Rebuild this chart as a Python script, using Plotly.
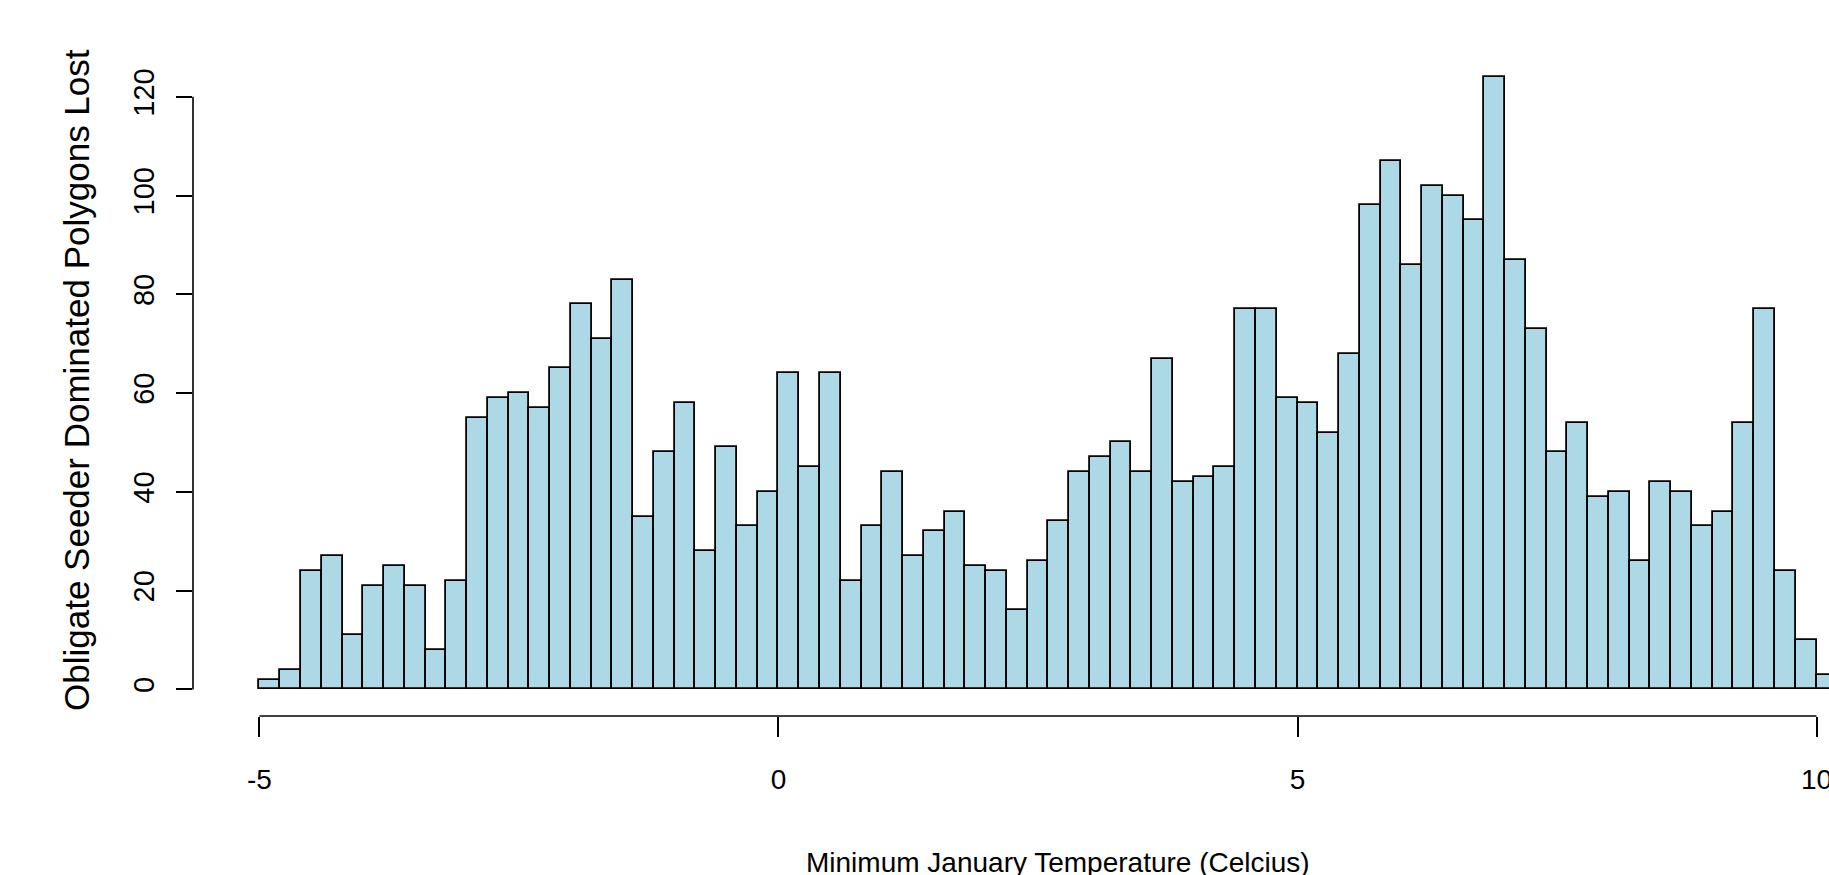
import plotly.graph_objects as go

# ---- data ----
bin_left = [-5.0, -4.8, -4.6, -4.4, -4.2, -4.0, -3.8, -3.6, -3.4, -3.2,
            -3.0, -2.8, -2.6, -2.4, -2.2, -2.0, -1.8, -1.6, -1.4, -1.2,
            -1.0, -0.8, -0.6, -0.4, -0.2, 0.0, 0.2, 0.4, 0.6, 0.8,
            1.0, 1.2, 1.4, 1.6, 1.8, 2.0, 2.2, 2.4, 2.6, 2.8,
            3.0, 3.2, 3.4, 3.6, 3.8, 4.0, 4.2, 4.4, 4.6, 4.8,
            5.0, 5.2, 5.4, 5.6, 5.8, 6.0, 6.2, 6.4, 6.6, 6.8,
            7.0, 7.2, 7.4, 7.6, 7.8, 8.0, 8.2, 8.4, 8.6, 8.8,
            9.0, 9.2, 9.4, 9.6, 9.8, 10.0]
counts = [2, 4, 24, 27, 11, 21, 25, 21, 8, 22,
          55, 59, 60, 57, 65, 78, 71, 83, 35, 48,
          58, 28, 49, 33, 40, 64, 45, 64, 22, 33,
          44, 27, 32, 36, 25, 24, 16, 26, 34, 44,
          47, 50, 44, 67, 42, 43, 45, 77, 77, 59,
          58, 52, 68, 98, 107, 86, 102, 100, 95, 124,
          87, 73, 48, 54, 39, 40, 26, 42, 40, 33,
          36, 54, 77, 24, 10, 3]
bin_width = 0.2
x_ticks = [-5, 0, 5, 10]
x_tick_labels = ["-5", "0", "5", "10"]
y_ticks = [0, 20, 40, 60, 80, 100, 120]
y_tick_labels = ["0", "20", "40", "60", "80", "100", "120"]
x_title = "Minimum January Temperature (Celcius)"
y_title = "Obligate Seeder Dominated Polygons Lost"

FONT = "Liberation Sans, Arial, sans-serif"

fig = go.Figure()
fig.add_trace(go.Bar(
    x=bin_left, y=counts, width=[bin_width] * len(counts), offset=0,
    marker=dict(color="#ADD8E6", line=dict(color="black", width=1.8)),
    hoverinfo="x+y",
))

W, H = 1829, 875
L, B = 193, 875 - 716
fig.update_layout(
    width=W, height=H,
    margin=dict(l=L, r=0, t=0, b=B, pad=0, autoexpand=False),
    paper_bgcolor="white", plot_bgcolor="white",
    showlegend=False, bargap=0,
    font=dict(family=FONT, color="black", size=27),
    xaxis=dict(range=[-5.6405, 10.1204], showgrid=False, zeroline=False,
               showline=False, automargin=False, tickmode="array",
               tickvals=x_ticks, ticktext=x_tick_labels, ticks="outside",
               ticklen=20, tickwidth=1.6, tickcolor="black",
               ticklabelstandoff=18, ticklabeloverflow="allow",
               tickfont=dict(size=28, family=FONT, color="black")),
    yaxis=dict(range=[-5.39, 139.6], showgrid=False, zeroline=False,
               showline=False, automargin=False, tickmode="array",
               tickvals=y_ticks, ticktext=y_tick_labels, ticks="outside",
               ticklen=16, tickwidth=1.6, tickcolor="black", tickangle=-90,
               ticklabelstandoff=10, ticklabeloverflow="allow",
               tickfont=dict(size=29, family=FONT, color="black")),
    shapes=[
        dict(type="line", xref="x", yref="paper", x0=x_ticks[0], x1=x_ticks[-1],
             y0=0, y1=0, line=dict(color="black", width=1.6)),
        dict(type="line", xref="paper", yref="y", x0=0, x1=0,
             y0=y_ticks[0], y1=y_ticks[-1], line=dict(color="black", width=1.6)),
    ],
    annotations=[
        dict(text=x_title, xref="paper", yref="paper",
             x=(1058 - L) / (W - L), y=(716 - 845) / 716,
             xanchor="center", yanchor="top", showarrow=False,
             font=dict(size=28, family=FONT, color="black")),
        dict(text=y_title, xref="paper", yref="paper", textangle=-90,
             x=(76 - L) / (W - L), y=(716 - 380) / 716,
             xanchor="center", yanchor="middle", showarrow=False,
             font=dict(size=35, family=FONT, color="black")),
    ],
)

fig.write_html(
    "out.html",
    config={"displayModeBar": False},
    post_script="document.body.style.margin='0';document.body.style.overflow='hidden';",
)
